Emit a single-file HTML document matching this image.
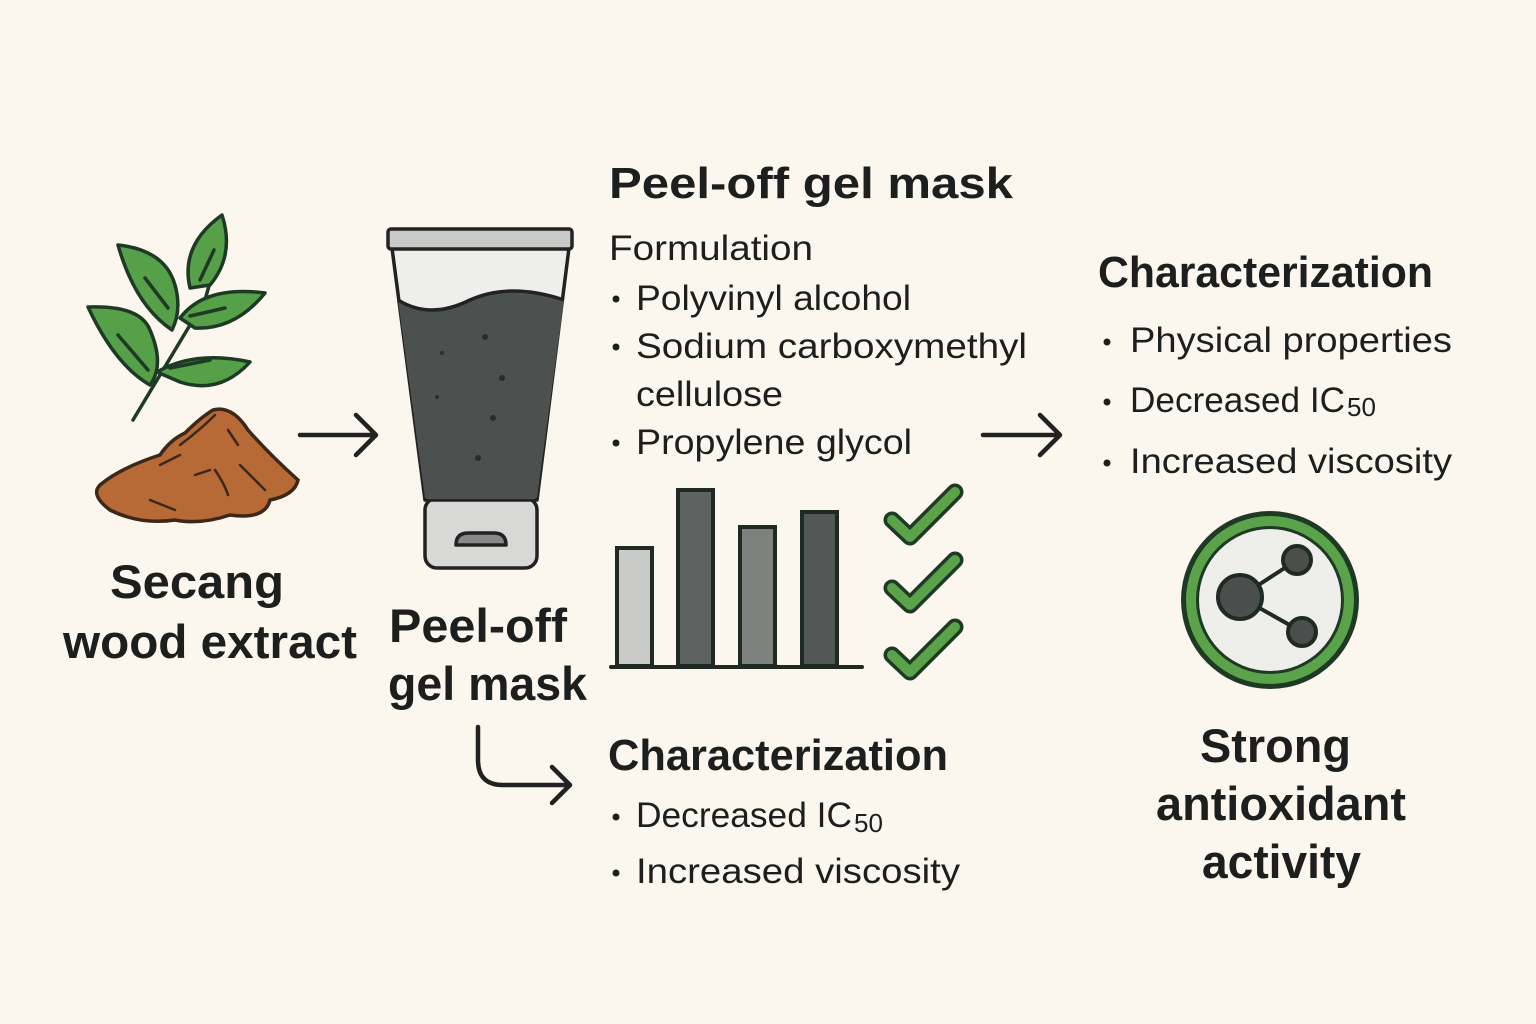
<!DOCTYPE html>
<html><head><meta charset="utf-8"><style>html,body{margin:0;padding:0;background:#fbf7ee}svg{display:block}text{font-family:"Liberation Sans",sans-serif;fill:#1c1f1d}</style></head><body>
<svg width="1536" height="1024" viewBox="0 0 1536 1024" xmlns="http://www.w3.org/2000/svg">
<rect width="1536" height="1024" fill="#fbf7ee"/>
<!-- plant -->
<g stroke="#1f3a24" stroke-width="3.5" stroke-linecap="round" stroke-linejoin="round">
<path d="M133 420 L205 300 L222 240" fill="none"/>
<path d="M150 385 Q115 365 88 307 Q140 305 150 330 Q165 365 150 385Z" fill="#56a04a"/>
<path d="M157 372 Q195 350 250 362 Q220 395 180 382Z" fill="#56a04a"/>
<path d="M172 330 Q135 305 118 245 Q165 250 175 285 Q182 310 172 330Z" fill="#56a04a"/>
<path d="M180 318 Q205 285 265 293 Q235 330 195 328Z" fill="#56a04a"/>
<path d="M190 288 Q180 245 222 215 Q235 255 210 285Z" fill="#56a04a"/>
<g fill="none"><path d="M118 335 L148 370"/><path d="M170 368 L210 360"/><path d="M145 278 L168 308"/><path d="M190 316 L225 308"/><path d="M200 280 L214 250"/></g>
</g>
<!-- powder -->
<path d="M100 485 Q120 468 160 455 Q170 440 185 433 Q200 418 213 410 Q232 405 248 430 Q270 455 298 480 Q295 495 270 500 Q265 520 230 515 Q200 525 175 520 Q140 525 110 510 Q90 495 100 485Z" fill="#b86a36" stroke="#3b2818" stroke-width="3.5"/>
<g stroke="#3b2818" stroke-width="2.5" fill="none" stroke-linecap="round"><path d="M180 445 Q200 430 215 415"/><path d="M160 465 L180 455"/><path d="M215 470 Q225 485 228 495"/><path d="M240 465 Q255 480 265 490"/><path d="M150 500 L175 510"/><path d="M195 475 L210 470"/><path d="M228 430 L238 445"/></g>
<!-- arrows -->
<g stroke="#222" stroke-width="4.5" fill="none" stroke-linecap="round" stroke-linejoin="round"><path d="M300 435 L376 435 M356 415 L376 435 L356 455"/>
<path d="M983 435 L1060 435 M1040 415 L1060 435 L1040 455"/>
<path d="M478 727 L478 760 Q478 785 503 785 L570 785 M552 767 L570 785 L552 803"/></g>
<!-- tube -->
<g stroke="#222" stroke-width="3.5" stroke-linejoin="round">
<rect x="425" y="498" width="112" height="70" rx="12" fill="#d8d8d6"/>
<path d="M456 545 Q456 533 468 533 L494 533 Q506 533 506 545Z" fill="#888"/>
<path d="M392 248 L569 248 L537 500 L425 500Z" fill="#eeeeec"/>
<path d="M398 300 Q430 320 470 300 Q510 282 564 300 L537 498 L425 498Z" fill="#4c514f" stroke="none"/>
<path d="M398 300 Q430 320 470 300 Q510 282 564 300" fill="none"/>
<rect x="388" y="229" width="184" height="20" rx="3" fill="#c9c9c7"/>
</g>
<g fill="#2a2d2c"><circle cx="485" cy="337" r="3"/><circle cx="442" cy="353" r="2"/><circle cx="502" cy="378" r="3"/><circle cx="437" cy="397" r="2"/><circle cx="493" cy="418" r="3"/><circle cx="478" cy="458" r="3"/></g>
<!-- bars -->
<g stroke="#1f2a22" stroke-width="4">
<rect x="617" y="548" width="35" height="118" fill="#cacbc8"/>
<rect x="678" y="490" width="35" height="176" fill="#5d6360"/>
<rect x="740" y="527" width="35" height="139" fill="#7d827f"/>
<rect x="802" y="512" width="35" height="154" fill="#535856"/>
<path d="M611 667 L862 667" stroke-linecap="round"/>
</g>
<g stroke="#1f3a24" stroke-width="17" fill="none" stroke-linecap="round" stroke-linejoin="round"><path d="M892 520 L910 537 L955 492"/><path d="M892 588 L910 605 L955 560"/><path d="M892 655 L910 672 L955 627"/></g>
<g stroke="#5ba34b" stroke-width="10" fill="none" stroke-linecap="round" stroke-linejoin="round"><path d="M892 520 L910 537 L955 492"/><path d="M892 588 L910 605 L955 560"/><path d="M892 655 L910 672 L955 627"/></g>
<!-- circle icon -->
<circle cx="1270" cy="600" r="89" fill="#1f3a24"/>
<circle cx="1270" cy="600" r="84" fill="#5ba34b"/>
<circle cx="1270" cy="600" r="74" fill="#1f3a24"/>
<circle cx="1270" cy="600" r="71" fill="#eeeeea"/>
<g stroke="#1f2a22" stroke-width="4"><path d="M1240 597 L1297 560 M1240 597 L1302 632"/>
<circle cx="1240" cy="597" r="22" fill="#4a4f4d"/><circle cx="1297" cy="560" r="14" fill="#4a4f4d"/><circle cx="1302" cy="632" r="14" fill="#4a4f4d"/></g>
<!-- text -->
<g font-weight="bold" font-size="47">
<text x="110" y="598" textLength="174" lengthAdjust="spacingAndGlyphs">Secang</text>
<text x="63" y="658" textLength="294" lengthAdjust="spacingAndGlyphs">wood extract</text>
<text x="389" y="642" textLength="178" lengthAdjust="spacingAndGlyphs">Peel-off</text>
<text x="388" y="700" textLength="199" lengthAdjust="spacingAndGlyphs">gel mask</text>
<text x="1200" y="762" textLength="151" lengthAdjust="spacingAndGlyphs">Strong</text>
<text x="1156" y="820" textLength="250" lengthAdjust="spacingAndGlyphs">antioxidant</text>
<text x="1202" y="878" textLength="159" lengthAdjust="spacingAndGlyphs">activity</text>
</g>
<g font-size="44" font-weight="bold">
<text x="609" y="198" textLength="404" lengthAdjust="spacingAndGlyphs">Peel-off gel mask</text>
<text x="1098" y="287" textLength="335" lengthAdjust="spacingAndGlyphs">Characterization</text>
<text x="608" y="770" textLength="340" lengthAdjust="spacingAndGlyphs">Characterization</text>
</g>
<g font-size="35">
<text x="609" y="260" textLength="204" lengthAdjust="spacingAndGlyphs">Formulation</text>
<text x="636" y="310" textLength="275" lengthAdjust="spacingAndGlyphs">Polyvinyl alcohol</text>
<text x="636" y="358" textLength="391" lengthAdjust="spacingAndGlyphs">Sodium carboxymethyl</text>
<text x="636" y="406" textLength="147" lengthAdjust="spacingAndGlyphs">cellulose</text>
<text x="636" y="454" textLength="276" lengthAdjust="spacingAndGlyphs">Propylene glycol</text>
<text x="1130" y="352" textLength="322" lengthAdjust="spacingAndGlyphs">Physical properties</text>
<text x="1130" y="412" textLength="215" lengthAdjust="spacingAndGlyphs">Decreased IC</text><text x="1347" y="416" font-size="26">50</text>
<text x="1130" y="473" textLength="322" lengthAdjust="spacingAndGlyphs">Increased viscosity</text>
<text x="636" y="827" textLength="216" lengthAdjust="spacingAndGlyphs">Decreased IC</text><text x="854" y="832" font-size="26">50</text>
<text x="636" y="883" textLength="324" lengthAdjust="spacingAndGlyphs">Increased viscosity</text>
</g>
<g fill="#1c1f1d"><circle cx="616" cy="299" r="3.5"/><circle cx="616" cy="347" r="3.5"/><circle cx="616" cy="443" r="3.5"/>
<circle cx="1107" cy="342" r="3.5"/><circle cx="1107" cy="402" r="3.5"/><circle cx="1107" cy="463" r="3.5"/>
<circle cx="616" cy="817" r="3.5"/><circle cx="616" cy="873" r="3.5"/></g>
</svg>
</body></html>
